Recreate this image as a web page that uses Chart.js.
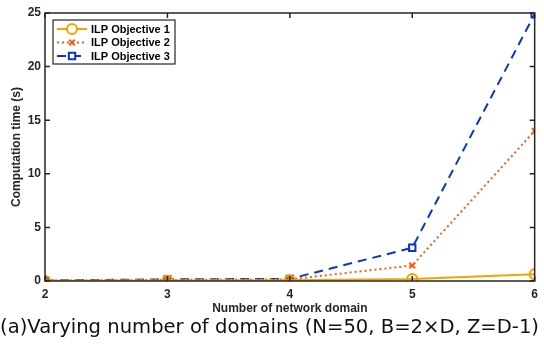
<!DOCTYPE html>
<html>
<head>
<meta charset="utf-8">
<script src="https://cdn.jsdelivr.net/npm/chart.js@4"></script>
<style>
  html, body { margin: 0; padding: 0; background: #fff; }
  #wrap { width: 544px; height: 344px; }
</style>
</head>
<body>
<div id="wrap"><canvas id="chart" width="544" height="344"></canvas></div>
<script>
const domains = [2, 3, 4, 5, 6];
const obj1 = [0.02, 0.05, 0.08, 0.18, 0.62];
const obj2 = [0.03, 0.1, 0.15, 1.45, 14.0];
const obj3 = [0.05, 0.15, 0.2, 3.1, 24.9];
const yTicks = [0, 5, 10, 15, 20, 25];

const AXIS_FONT = { family: 'Liberation Sans, Arial, sans-serif', size: 12, weight: 'bold' };
const INK = '#262626';

const series = [
  { label: 'ILP Objective 1', data: obj1, color: '#f5a300', dash: [], style: 'circle', r: 5 },
  { label: 'ILP Objective 2', data: obj2, color: '#ff5a14', dash: [2, 3], style: 'crossRot', r: 4 },
  { label: 'ILP Objective 3', data: obj3, color: '#0a35c8', dash: [9, 6], style: 'rect', r: 4.5 },
];

// box + inward ticks like matlab
const framePlugin = {
  id: 'frame',
  afterDatasetsDraw(chart) {
    const { ctx, chartArea: a, scales } = chart;
    ctx.save();
    ctx.strokeStyle = INK;
    ctx.lineWidth = 1.5;
    ctx.strokeRect(a.left, a.top, a.right - a.left, a.bottom - a.top);
    ctx.beginPath();
    yTicks.forEach(v => {
      const y = scales.y.getPixelForValue(v);
      ctx.moveTo(a.left, y); ctx.lineTo(a.left + 5, y);
      ctx.moveTo(a.right, y); ctx.lineTo(a.right - 5, y);
    });
    domains.forEach(v => {
      const x = scales.x.getPixelForValue(v);
      ctx.moveTo(x, a.bottom); ctx.lineTo(x, a.bottom - 5);
      ctx.moveTo(x, a.top); ctx.lineTo(x, a.top + 5);
    });
    ctx.stroke();
    ctx.restore();
  },
};

const legendPlugin = {
  id: 'boxLegend',
  afterDraw(chart) {
    const { ctx, chartArea: a } = chart;
    const x0 = a.left + 8, y0 = a.top + 7, w = 122, h = 44;
    ctx.save();
    ctx.fillStyle = '#fff';
    ctx.fillRect(x0, y0, w, h);
    ctx.strokeStyle = INK;
    ctx.lineWidth = 1.2;
    ctx.strokeRect(x0, y0, w, h);
    series.forEach((s, i) => {
      const y = y0 + 9 + i * 13.5;
      ctx.strokeStyle = s.color;
      ctx.lineWidth = 2;
      ctx.setLineDash(s.dash);
      ctx.beginPath();
      ctx.moveTo(x0 + 4, y); ctx.lineTo(x0 + 34, y);
      ctx.stroke();
      ctx.setLineDash([]);
      ctx.fillStyle = '#fff';
      Chart.helpers.drawPoint(ctx, { pointStyle: s.style, radius: s.r, rotation: 0, borderWidth: 2 }, x0 + 19, y);
      ctx.fillStyle = '#000';
      ctx.font = 'bold 11px "Liberation Sans", Arial, sans-serif';
      ctx.textBaseline = 'middle';
      ctx.fillText(s.label, x0 + 38, y + 0.5);
    });
    ctx.restore();
  },
};

new Chart(document.getElementById('chart').getContext('2d'), {
  type: 'line',
  data: {
    datasets: series.map(s => ({
      label: s.label,
      data: domains.map((d, i) => ({ x: d, y: s.data[i] })),
      borderColor: s.color,
      backgroundColor: 'transparent',
      borderWidth: 2,
      borderDash: s.dash,
      pointStyle: s.style,
      pointRadius: s.r,
      pointBorderWidth: 2,
      pointBorderColor: s.color,
      pointBackgroundColor: 'transparent',
      tension: 0,
    })),
  },
  options: {
    responsive: false,
    animation: false,
    layout: { padding: { top: 13, right: 5, left: 0, bottom: 0 } },
    plugins: {
      legend: { display: false },
      tooltip: { enabled: false },
      title: {
        display: true,
        position: 'bottom',
        text: '(a)Varying number of domains (N=50, B=2×D, Z=D-1)',
        color: '#111',
        font: { family: 'DejaVu Sans, sans-serif', size: 20, weight: 'normal', lineHeight: 1.2 },
        padding: { top: 0, bottom: 4 },
      },
    },
    scales: {
      x: {
        type: 'linear',
        min: 2, max: 6,
        grid: { display: false, drawTicks: false },
        border: { display: false },
        ticks: { stepSize: 1, color: INK, font: AXIS_FONT, padding: 6 },
        title: { display: true, text: 'Number of network domain', color: INK, font: AXIS_FONT, padding: 0 },
        afterFit: s => { s.height = 35; },
      },
      y: {
        min: 0, max: 25,
        grid: { display: false, drawTicks: false },
        border: { display: false },
        ticks: { stepSize: 5, color: INK, font: AXIS_FONT, padding: 4 },
        title: { display: true, text: 'Computation time (s)', color: INK, font: AXIS_FONT, padding: { top: 9, bottom: 0 } },
        afterFit: s => { s.width = 45; },
      },
    },
  },
  plugins: [framePlugin, legendPlugin],
});
</script>
</body>
</html>
